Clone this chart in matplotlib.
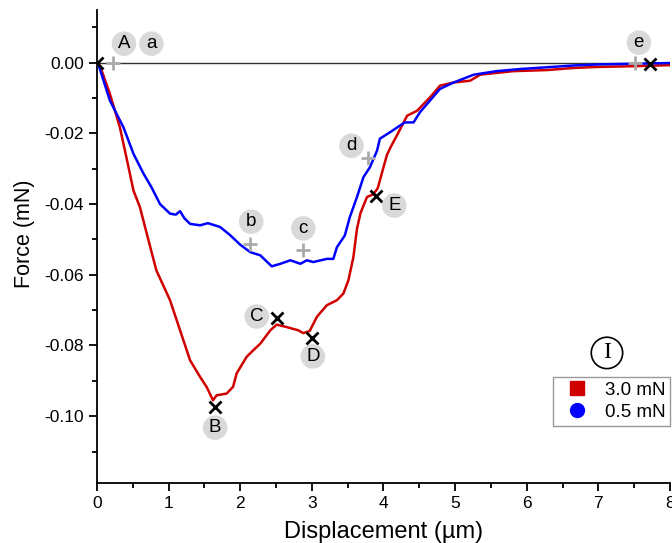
import matplotlib.pyplot as plt
from matplotlib.lines import Line2D
from matplotlib.ticker import MultipleLocator, AutoMinorLocator

plt.rcParams['font.family'] = ['Liberation Sans', 'DejaVu Sans']

# 3.0 mN curve (red)
red_x = [0, 0.04, 0.18, 0.32, 0.41, 0.51, 0.60, 0.72, 0.83, 1.02, 1.16, 1.30, 1.44, 1.53,
         1.62, 1.67, 1.81, 1.90, 1.95, 2.09, 2.18, 2.28, 2.42, 2.51, 2.65, 2.81, 2.88, 2.97,
         3.07, 3.21, 3.35, 3.44, 3.51, 3.58, 3.63, 3.68, 3.77, 3.86, 3.92, 4.00, 4.05, 4.11,
         4.19, 4.33, 4.47, 4.65, 4.79, 4.98, 5.21, 5.35, 5.81, 6.28, 6.65, 7.0, 7.5, 8.0]
red_y = [0, -0.0008, -0.0088, -0.0183, -0.0267, -0.0362, -0.0409, -0.0503, -0.0588, -0.0672,
         -0.0757, -0.0842, -0.0889, -0.0917, -0.0955, -0.0941, -0.0936, -0.0917, -0.0879,
         -0.0832, -0.0814, -0.0795, -0.0757, -0.0741, -0.0748, -0.0757, -0.0765, -0.0759,
         -0.0719, -0.0686, -0.0672, -0.0653, -0.0616, -0.0550, -0.0470, -0.0425, -0.0380,
         -0.0372, -0.0355, -0.0296, -0.0260, -0.0235, -0.0205, -0.0150, -0.0136, -0.0098,
         -0.0065, -0.0056, -0.0051, -0.0034, -0.0024, -0.0021, -0.0015, -0.0012, -0.0010,
         -0.0007]

# 0.5 mN curve (blue)
blue_x = [0, 0.02, 0.18, 0.37, 0.51, 0.65, 0.76, 0.88, 1.02, 1.10, 1.16, 1.22, 1.30, 1.44,
          1.55, 1.72, 1.86, 2.0, 2.14, 2.28, 2.44, 2.56, 2.70, 2.84, 2.93, 3.02, 3.21, 3.30,
          3.35, 3.46, 3.53, 3.63, 3.72, 3.81, 3.91, 3.95, 4.09, 4.23, 4.30, 4.42, 4.51, 4.65,
          4.79, 4.98, 5.26, 5.58, 5.91, 6.28, 6.65, 7.0, 7.5, 8.0]
blue_y = [0, -0.0005, -0.0107, -0.0183, -0.0258, -0.0314, -0.0352, -0.0400, -0.0427, -0.0430,
          -0.0420, -0.0440, -0.0456, -0.0460, -0.0454, -0.0465, -0.0488, -0.0515, -0.0536,
          -0.0545, -0.0576, -0.0569, -0.0559, -0.0569, -0.0559, -0.0564, -0.0555, -0.0555,
          -0.0522, -0.0489, -0.0437, -0.0380, -0.0324, -0.0296, -0.0249, -0.0215, -0.0197,
          -0.0178, -0.0169, -0.0169, -0.0140, -0.0107, -0.0074, -0.0056, -0.0034, -0.0024,
          -0.0018, -0.0013, -0.0008, -0.0005, -0.0003, -0.0001]

# marked points on the 3.0 mN curve (black x)
big_labels = ['A', 'B', 'C', 'D', 'E']
big_x = [0, 1.65, 2.51, 3.0, 3.9, 7.72]
big_y = [0, -0.0973, -0.0721, -0.078, -0.0376, -0.0003]

# marked points on the 0.5 mN curve (grey +)
small_labels = ['a', 'b', 'c', 'd', 'e']
small_x = [0.23, 2.14, 2.88, 3.79, 7.51]
small_y = [0, -0.0512, -0.0531, -0.0269, 0]

fig = plt.figure(figsize=(6.72, 5.43), dpi=100)
ax = fig.add_axes([0.1443, 0.1105, 0.8527, 0.8711])

ax.axhline(0, color='#333333', lw=1.0, zorder=1)
ax.plot(red_x, red_y, color='#d00000', lw=1.8, zorder=2)
ax.plot(blue_x, blue_y, color='#0000ff', lw=1.8, zorder=3)

ax.plot(small_x, small_y, ls='none', marker='+', color='#aaaaaa', ms=10, mew=2, zorder=4)
ax.plot(big_x, big_y, ls='none', marker='x', color='black', ms=8, mew=2, zorder=5)

circ = dict(boxstyle='circle,pad=0.2', fc='#d9d9d9', ec='none')
big_off = [(27, 19), (0, -21), (-20, 1), (1, -18), (18, -10)]
small_off = [(38, 19), (1, 22), (0, 22), (-17, 12), (4, 20)]
for lab, x, y, off in zip(big_labels, big_x, big_y, big_off):
    ax.annotate(lab, (x, y), xytext=off, textcoords='offset pixels', ha='center',
                va='center', fontsize=13.5, bbox=circ, zorder=6)
for lab, x, y, off in zip(small_labels, small_x, small_y, small_off):
    ax.annotate(lab, (x, y), xytext=off, textcoords='offset pixels', ha='center',
                va='center', fontsize=13.5, bbox=circ, zorder=6)

ax.set_xlim(0, 8)
ax.set_ylim(-0.1189, 0.0149)
ax.xaxis.set_major_locator(MultipleLocator(1))
ax.xaxis.set_minor_locator(AutoMinorLocator(2))
ax.yaxis.set_major_locator(MultipleLocator(0.02))
ax.yaxis.set_minor_locator(AutoMinorLocator(2))
ax.yaxis.set_major_formatter(lambda v, p: f'{v:.2f}'.replace('-0.00', '0.00'))
ax.spines['top'].set_visible(False)
ax.spines['right'].set_visible(False)
for s in ['left', 'bottom']:
    ax.spines[s].set_linewidth(1.3)
ax.tick_params(which='major', length=6, width=1.3, labelsize=12.5)
ax.tick_params(which='minor', length=3.5, width=1.3)
ax.set_xlabel('Displacement (µm)', fontsize=17, labelpad=7)
ax.set_ylabel('Force (mN)', fontsize=15.5)
ax.yaxis.set_label_coords(-0.108, 0.528)

handles = [Line2D([], [], ls='none', marker='s', color='#d00000', ms=10),
           Line2D([], [], ls='none', marker='o', color='#0000ff', ms=10)]
ax.legend(handles, ['3.0 mN', '0.5 mN'], loc='upper left', bbox_to_anchor=(0.823, 0.306),
          bbox_transform=fig.transFigure, borderaxespad=0, fontsize=13.5, fancybox=False,
          edgecolor='#999999', framealpha=1, handletextpad=0.4, borderpad=0.25,
          labelspacing=0.28, handlelength=2.1)

ax.text(0.89, 0.275, 'I', transform=ax.transAxes, ha='center', va='center',
        family='Liberation Serif', fontsize=17,
        bbox=dict(boxstyle='circle,pad=0.22', fc='white', ec='black', lw=1.2))

fig.savefig('out.png', dpi=100)
